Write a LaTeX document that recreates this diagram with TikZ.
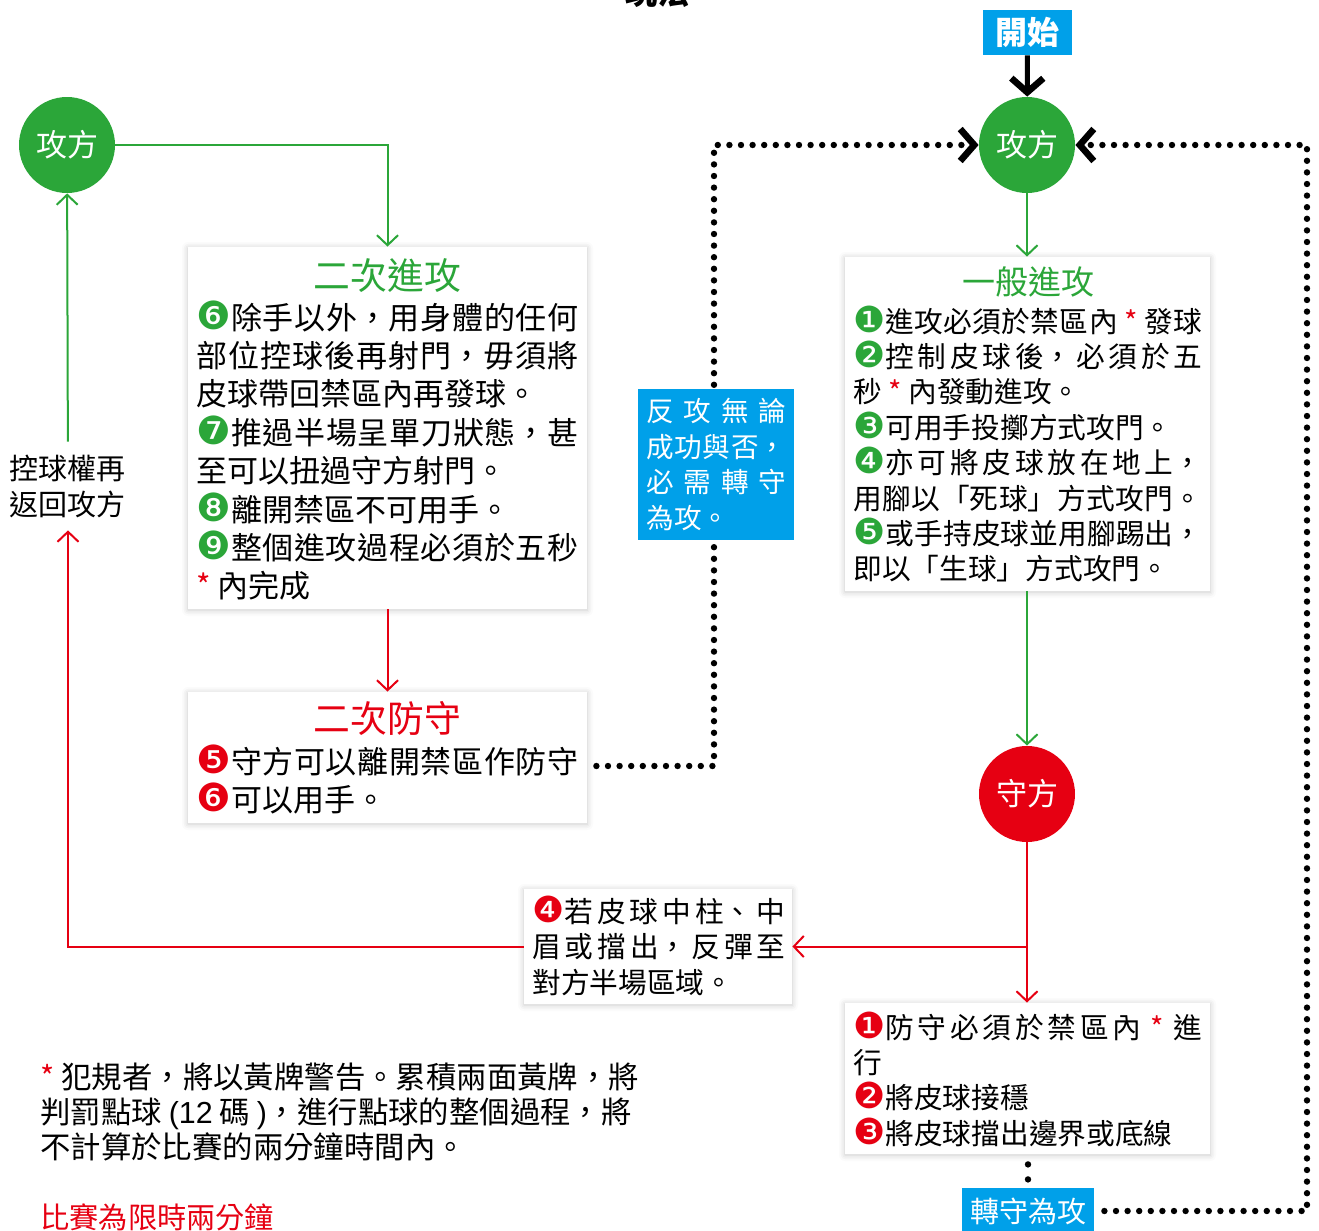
\documentclass[tikz,border=0pt]{standalone}
\usepackage{fontspec}
\setmainfont{Noto Sans CJK TC}
\newfontfamily\dingfont{DejaVu Sans}[Scale=1.25]
\newfontfamily\latinfont{Liberation Sans}
\usetikzlibrary{arrows.meta,shadows.blur}
\definecolor{attackgreen}{HTML}{2BA639}
\definecolor{defendred}{HTML}{E60012}
\definecolor{noteblue}{HTML}{00A0E9}
% glue between chinese characters, so that full lines can be justified
\XeTeXlinebreaklocale "zh"
\XeTeXlinebreakskip=0pt plus 2pt
\hbadness=10000
\newcommand\gnum[1]{{\dingfont\color{attackgreen}#1}}
\newcommand\rnum[1]{{\dingfont\color{defendred}#1}}
\newcommand\redstar{\textcolor{defendred}{*}}
\newcommand\bodyLarge{\fontsize{15.5pt}{19.2pt}\selectfont}
\newcommand\bodySmall{\fontsize{14.35pt}{17.7pt}\selectfont}
\begin{document}
\begin{tikzpicture}[x=0.5pt,y=-0.5pt,
  party/.style={circle, minimum size=48pt, inner sep=0pt, text=white, font=\fontsize{15.5pt}{15.5pt}\selectfont},
  rulebox/.style={rectangle, fill=white, inner sep=0pt, blur shadow={shadow xshift=0pt, shadow yshift=-0.5pt, shadow blur radius=3pt, shadow opacity=22}},
  bluebox/.style={rectangle, fill=noteblue, inner sep=0pt, text=white},
  ruletext/.style={anchor=base west, inner sep=0pt, align=justify},
  boxtitle/.style={anchor=base, inner sep=0pt, font=\fontsize{18.4pt}{18.4pt}\selectfont},
  greenarrow/.style={draw=attackgreen, line width=1pt, -{Straight Barb[length=5pt,width=10.5pt]}},
  redarrow/.style={draw=defendred, line width=1pt, -{Straight Barb[length=5pt,width=10.5pt]}},
  dotline/.style={draw=black, line width=3.2pt, line cap=round, dash pattern=on 0pt off 5.8pt},
  boldarrow/.style={-{Straight Barb[length=7pt,width=16pt,line width=3.3pt]}}]
  % page frame
  \useasboundingbox (0,0) rectangle (1319,1231);
  % title, cut by the top edge
  \node[anchor=base, inner sep=0pt, font=\fontsize{16pt}{16pt}\selectfont\bfseries] (title) at (657,4) {玩法};
  % rule boxes
  \node[rulebox, minimum width=199.5pt, minimum height=181pt] (attack_two) at (387.5,428) {};
  \node[rulebox, minimum width=199.5pt, minimum height=65.5pt] (defend_two) at (387.5,757.5) {};
  \node[rulebox, minimum width=182.5pt, minimum height=167pt] (attack_one) at (1027.5,424) {};
  \node[rulebox, minimum width=182.5pt, minimum height=75.5pt] (defend_one) at (1027.5,1078.5) {};
  \node[rulebox, minimum width=134pt, minimum height=57.5pt] (rebound) at (658,946.5) {};
  % players
  \node[party, fill=attackgreen] (attack_left) at (67,145) {攻方};
  \node[party, fill=attackgreen] (attack_right) at (1027,145) {攻方};
  \node[party, fill=defendred] (defend) at (1027,794) {守方};
  % start and switch labels
  \node[bluebox, minimum width=44.5pt, minimum height=22.5pt, font=\fontsize{16pt}{16pt}\selectfont\bfseries] (start) at (1027.5,32.5) {開始};
  \node[bluebox, minimum width=66pt, minimum height=23pt, font=\fontsize{14.5pt}{14.5pt}\selectfont] (switch) at (1028,1211) {轉守為攻};
  \node[align=center, inner sep=0pt, minimum height=44pt, font=\fontsize{14.5pt}{18pt}\selectfont] (regain) at (68,486) {控球權再\\返回攻方};
  % corners of the dotted loops
  \coordinate (turn_left) at (714,145);
  \coordinate (turn_right) at (1307,145);
  % box titles
  \node[boxtitle, text=attackgreen] (attack_two_title) at (387.5,289) {二次進攻};
  \node[boxtitle, text=defendred] (defend_two_title) at (387.5,732) {二次防守};
  \node[boxtitle, text=attackgreen, font=\fontsize{16.5pt}{16.5pt}\selectfont] (attack_one_title) at (1028,294.5) {一般進攻};
  % box texts
  \node[ruletext, text width=191pt, font=\bodyLarge] (attack_two_text) at (196,329) {\gnum{❻}除手以外，用身體的任何\linebreak
    部位控球後再射門，毋須將\linebreak
    皮球帶回禁區內再發球。\\%
    \gnum{❼}推過半場呈單刀狀態，甚\linebreak
    至可以扭過守方射門。\\%
    \gnum{❽}離開禁區不可用手。\\%
    \gnum{❾}整個進攻過程必須於五秒\linebreak
    \redstar{} 內完成};
  \node[ruletext, text width=191pt, font=\bodyLarge] (defend_two_text) at (196,773) {\rnum{❺}守方可以離開禁區作防守\linebreak
    \rnum{❻}可以用手。};
  \node[ruletext, text width=174.5pt, font=\bodySmall] (attack_one_text) at (853,332) {\gnum{❶}進攻必須於禁區內 \redstar{} 發球\linebreak
    \gnum{❷}控制皮球後，必須於五\linebreak
    秒 \redstar{} 內發動進攻。\\%
    \gnum{❸}可用手投擲方式攻門。\\%
    \gnum{❹}亦可將皮球放在地上，\linebreak
    用腳以「死球」方式攻門。\linebreak
    \gnum{❺}或手持皮球並用腳踢出，\linebreak
    即以「生球」方式攻門。};
  \node[ruletext, text width=174.5pt, font=\bodySmall] (defend_one_text) at (853,1038) {\rnum{❶}防守必須於禁區內 \redstar{} 進\linebreak
    行\\%
    \rnum{❷}將皮球接穩\\%
    \rnum{❸}將皮球擋出邊界或底線};
  \node[ruletext, text width=126.5pt, font=\fontsize{14.35pt}{17.75pt}\selectfont] (rebound_text) at (532,922) {\rnum{❹}若皮球中柱、中\linebreak
    眉或擋出，反彈至\linebreak
    對方半場區域。};
  % connectors
  \draw[line width=2.5pt, boldarrow] (start) -- (attack_right);
  \draw[greenarrow] (attack_left) -| (attack_two.north);
  \draw[redarrow] (attack_two) -- (defend_two);
  \draw[greenarrow] (attack_right) -- (attack_right |- attack_one.north);
  \draw[greenarrow] (attack_one.south -| attack_right) -- (defend);
  \draw[redarrow] (defend) -- (defend |- defend_one.north);
  \draw[redarrow] (defend |- rebound.east) -- (rebound.east);
  \draw[redarrow] (rebound.west) -| (regain.south);
  \draw[greenarrow] (regain) -- (attack_left);
  % dotted loops back to the attack
  \draw[dotline, boldarrow] ([shift={(4.5pt,-4.25pt)}]defend_two.east) -| (turn_left) -- (attack_right);
  \draw[dotline, boldarrow] ([xshift=5pt]switch.east) -| (turn_right) -- (attack_right);
  \draw[dotline, dash pattern=on 0pt off 7.5pt, shorten <=5pt, shorten >=3pt] (defend_one.south -| switch) -- (switch);
  % counter attack note, over the dots
  \node[bluebox, minimum width=78pt, minimum height=75.5pt] (counter) at (716,464.5) {};
  \node[ruletext, text=white, text width=70pt, font=\fontsize{13.8pt}{17.85pt}\selectfont] (counter_text) at (646,421.5) {反攻無論\linebreak
    成功與否，\linebreak
    必需轉守\linebreak
    為攻。};
  % foot notes
  \node[anchor=base west, inner sep=0pt, align=left, font=\fontsize{15.2pt}{17.5pt}\selectfont] (foul_note) at (40,1158.5) {\redstar{} 犯規者，將以黃牌警告。累積兩面黃牌，將\\
    判罰點球 {\latinfont(12} 碼 {\latinfont)}，進行點球的整個過程，將\\
    不計算於比賽的兩分鐘時間內。};
  \node[anchor=base west, inner sep=0pt, text=defendred, font=\fontsize{14.6pt}{14.6pt}\selectfont] (time_note) at (40,1228) {比賽為限時兩分鐘};
\end{tikzpicture}
\end{document}
